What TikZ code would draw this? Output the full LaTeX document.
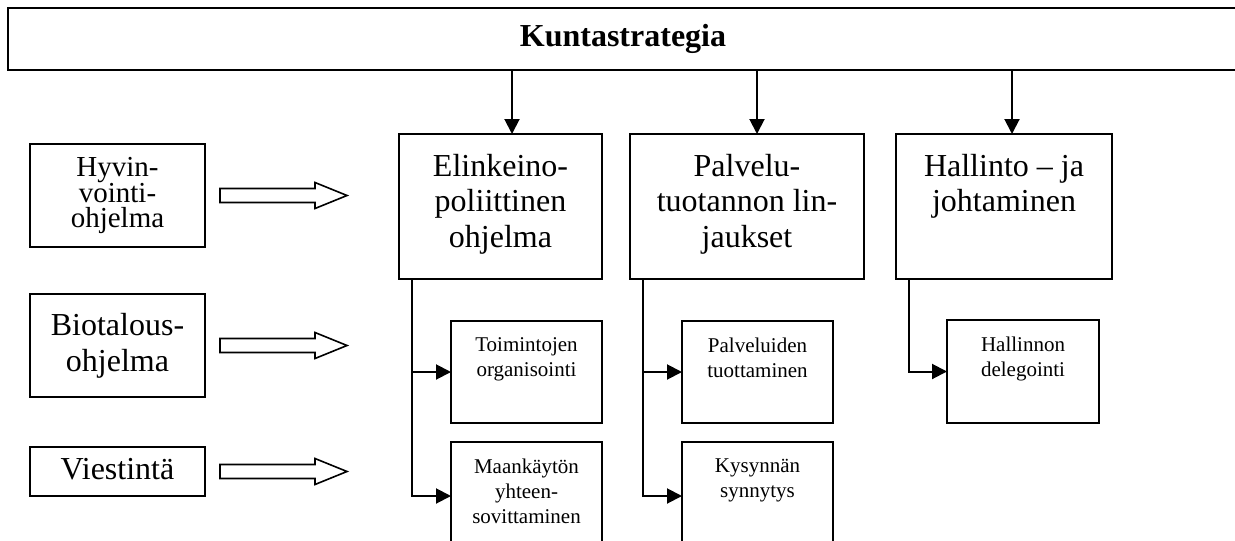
\documentclass[tikz,border=0pt]{standalone}
\usepackage{fontspec}
\setmainfont{Liberation Serif}
\usetikzlibrary{arrows.meta}
\newcommand\tightlines{\lineskiplimit=-20pt\relax}
\begin{document}
\begin{tikzpicture}[x=1pt,y=-1pt,
  box/.style={draw,line width=1.8pt,inner sep=0pt,outer sep=0pt},
  bigtxt/.style={font=\fontsize{32}{35.5}\selectfont,align=center,inner sep=0pt,anchor=north},
  smalltxt/.style={font=\fontsize{21}{25}\selectfont,align=center,inner sep=0pt,anchor=north},
  sidetxt/.style={font=\fontsize{32}{36}\selectfont,align=center},
  conn/.style={line width=2pt,-{Triangle[length=15pt,width=15pt]}},
  hollow/.style={draw,line width=1.6pt,fill=white,line join=miter}]
\clip (0,0) rectangle (1235,541);

% strategy banner
\node[box,line width=2.2pt,minimum width=1230pt,minimum height=62pt,
      font=\bfseries\fontsize{32}{36}\selectfont] (strat) at (623,39) {Kuntastrategia};

% main programme boxes
\node[box,minimum width=203pt,minimum height=145pt] (elink) at (500.5,206.5) {};
\node[bigtxt] (elinkT) at ([yshift=-20pt]elink.north) {Elinkeino-\\poliittinen\\ohjelma};
\node[box,minimum width=234pt,minimum height=145pt] (palv) at (747,206.5) {};
\node[bigtxt] (palvT) at ([yshift=-20pt]palv.north) {Palvelu-\\tuotannon lin-\\jaukset};
\node[box,minimum width=216pt,minimum height=145pt] (hall) at (1004,206.5) {};
\node[bigtxt] (hallT) at ([yshift=-20pt]hall.north) {Hallinto – ja\\johtaminen};

% arrows from the banner
\coordinate (eIn) at ([xshift=11.5pt]elink.north);
\coordinate (pIn) at ([xshift=10pt]palv.north);
\coordinate (hIn) at ([xshift=8pt]hall.north);
\draw[conn] (eIn |- strat.south) -- (eIn);
\draw[conn] (pIn |- strat.south) -- (pIn);
\draw[conn] (hIn |- strat.south) -- (hIn);

% sub-boxes
\node[box,minimum width=151pt,minimum height=102pt] (toim) at (526.5,372) {};
\node[smalltxt] (toimT) at ([yshift=-16.7pt]toim.north) {Toimintojen\\organisointi};
\node[box,minimum width=151pt,minimum height=108pt] (maan) at (526.5,496) {};
\node[smalltxt] (maanT) at ([yshift=-16.7pt]maan.north) {Maankäytön\\yhteen-\\sovittaminen};
\node[box,minimum width=151pt,minimum height=102pt] (pvel) at (757.5,372) {};
\node[smalltxt] (pvelT) at ([yshift=-16.7pt]pvel.north) {Palveluiden\\tuottaminen};
\node[box,minimum width=151pt,minimum height=108pt] (kys) at (757.5,496) {};
\node[smalltxt] (kysT) at ([yshift=-16.7pt]kys.north) {Kysynnän\\synnytys};
\node[box,minimum width=152pt,minimum height=103pt] (hdel) at (1023,371.5) {};
\node[smalltxt] (hdelT) at ([yshift=-16.7pt]hdel.north) {Hallinnon\\delegointi};

% branch connectors
\coordinate (eBr) at ([xshift=13pt]elink.south west);
\coordinate (pBr) at ([xshift=13pt]palv.south west);
\coordinate (hBr) at ([xshift=13pt]hall.south west);
\draw[conn] (eBr) |- (maan.west);
\draw[conn] (eBr |- toim.west) -- (toim.west);
\draw[conn] (pBr) |- (kys.west);
\draw[conn] (pBr |- pvel.west) -- (pvel.west);
\draw[conn] (hBr) |- (hdel.west);

% side programmes
\node[box,minimum width=175pt,minimum height=103pt,align=center,
      font=\fontsize{29}{25.5}\selectfont\tightlines] (hyv) at (117.5,195.5) {Hyvin-\\vointi-\\ohjelma};
\node[box,sidetxt,minimum width=175pt,minimum height=103pt] (bio) at (117.5,345.5) {Biotalous-\\ohjelma};
\node[box,minimum width=175pt,minimum height=49pt,font=\fontsize{32}{36}\selectfont,
      text height=22pt,text depth=7pt] (vies) at (117.5,471.5) {Viestintä};

% hollow block arrows
\foreach \src in {hyv,bio,vies}{
  \draw[hollow] ([xshift=15pt]\src.east) ++(0,-7) -- ++(95,0) -- ++(0,-6) -- ++(32,13)
        -- ++(-32,13) -- ++(0,-6) -- ++(-95,0) -- cycle;
}
\end{tikzpicture}
\end{document}
